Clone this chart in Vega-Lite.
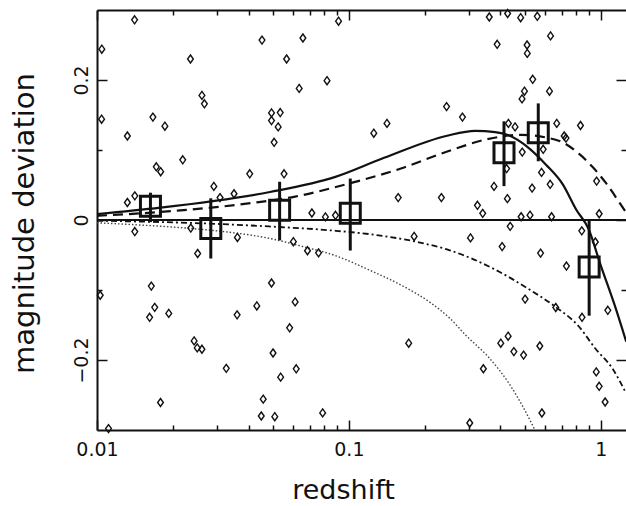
{
  "$schema": "https://vega.github.io/schema/vega-lite/v6.json",
  "width": 529,
  "height": 420,
  "autosize": "none",
  "padding": {"left": 97, "top": 10, "right": 0, "bottom": 76},
  "background": "white",
  "config": {"view": {"stroke": null}, "axis": {"grid": false}},
  "datasets": {
    "zero": [{"z": 0.01, "dm": 0}, {"z": 1.26, "dm": 0}],
    "pts": [
      {"z": 0.0141, "dm": 0.286}, {"z": 0.01045, "dm": 0.244}, {"z": 0.0235, "dm": 0.230}, {"z": 0.0452, "dm": 0.257},
      {"z": 0.0261, "dm": 0.178}, {"z": 0.0267, "dm": 0.166}, {"z": 0.01043, "dm": 0.144}, {"z": 0.01667, "dm": 0.147},
      {"z": 0.0186, "dm": 0.134}, {"z": 0.0132, "dm": 0.120}, {"z": 0.0493, "dm": 0.153}, {"z": 0.0493, "dm": 0.142},
      {"z": 0.0505, "dm": 0.111}, {"z": 0.0219, "dm": 0.086}, {"z": 0.0172, "dm": 0.076}, {"z": 0.0179, "dm": 0.069},
      {"z": 0.0404, "dm": 0.066}, {"z": 0.0291, "dm": 0.048}, {"z": 0.0308, "dm": 0.032}, {"z": 0.0350, "dm": 0.0375},
      {"z": 0.01413, "dm": 0.0345}, {"z": 0.0132, "dm": 0.025}, {"z": 0.0910, "dm": 0.284}, {"z": 0.0657, "dm": 0.260},
      {"z": 0.0566, "dm": 0.230}, {"z": 0.0819, "dm": 0.199}, {"z": 0.0635, "dm": 0.188}, {"z": 0.0534, "dm": 0.1535},
      {"z": 0.0524, "dm": 0.133}, {"z": 0.1417, "dm": 0.138}, {"z": 0.1256, "dm": 0.124}, {"z": 0.2443, "dm": 0.162},
      {"z": 0.0553, "dm": 0.066}, {"z": 0.157, "dm": 0.032}, {"z": 0.233, "dm": 0.032}, {"z": 0.0713, "dm": 0.010},
      {"z": 0.0807, "dm": 0.0044}, {"z": 0.0885, "dm": 0.0067}, {"z": 0.361, "dm": 0.290}, {"z": 0.427, "dm": 0.295},
      {"z": 0.481, "dm": 0.289}, {"z": 0.560, "dm": 0.291}, {"z": 0.632, "dm": 0.263}, {"z": 0.388, "dm": 0.251},
      {"z": 0.510, "dm": 0.250}, {"z": 0.511, "dm": 0.238}, {"z": 0.537, "dm": 0.201}, {"z": 0.626, "dm": 0.184},
      {"z": 0.498, "dm": 0.184}, {"z": 0.487, "dm": 0.173}, {"z": 0.2825, "dm": 0.147}, {"z": 0.430, "dm": 0.138},
      {"z": 0.457, "dm": 0.133}, {"z": 0.669, "dm": 0.138}, {"z": 0.831, "dm": 0.135}, {"z": 0.716, "dm": 0.120},
      {"z": 0.728, "dm": 0.117}, {"z": 0.488, "dm": 0.097}, {"z": 0.591, "dm": 0.101}, {"z": 0.423, "dm": 0.0735},
      {"z": 0.582, "dm": 0.068}, {"z": 0.377, "dm": 0.048}, {"z": 0.534, "dm": 0.0456}, {"z": 0.630, "dm": 0.051},
      {"z": 0.963, "dm": 0.0556}, {"z": 0.426, "dm": 0.0305}, {"z": 0.324, "dm": 0.021}, {"z": 0.340, "dm": 0.0095},
      {"z": 0.483, "dm": 0.0046}, {"z": 0.524, "dm": 0.0069}, {"z": 0.638, "dm": 0.0046}, {"z": 0.986, "dm": 0.0089},
      {"z": 0.437, "dm": -0.0091}, {"z": 0.841, "dm": -0.0155}, {"z": 0.952, "dm": -0.0314}, {"z": 0.304, "dm": -0.0256},
      {"z": 0.406, "dm": -0.038}, {"z": 0.577, "dm": -0.0473}, {"z": 0.731, "dm": -0.0658}, {"z": 0.501, "dm": -0.113},
      {"z": 0.663, "dm": -0.125}, {"z": 1.067, "dm": -0.129}, {"z": 0.843, "dm": -0.139}, {"z": 0.429, "dm": -0.166},
      {"z": 0.401, "dm": -0.176}, {"z": 0.452, "dm": -0.188}, {"z": 0.494, "dm": -0.193}, {"z": 0.573, "dm": -0.180},
      {"z": 0.342, "dm": -0.2125}, {"z": 0.960, "dm": -0.217}, {"z": 0.986, "dm": -0.2376}, {"z": 1.041, "dm": -0.260},
      {"z": 0.584, "dm": -0.2757}, {"z": 0.302, "dm": -0.290}, {"z": 0.1816, "dm": -0.0235}, {"z": 0.0602, "dm": -0.031},
      {"z": 0.0685, "dm": -0.0439}, {"z": 0.0758, "dm": -0.0469}, {"z": 0.0493, "dm": -0.090}, {"z": 0.0612, "dm": -0.117},
      {"z": 0.0582, "dm": -0.154}, {"z": 0.0500, "dm": -0.190}, {"z": 0.0618, "dm": -0.2126}, {"z": 0.0536, "dm": -0.2245},
      {"z": 0.1728, "dm": -0.176}, {"z": 0.0508, "dm": -0.281}, {"z": 0.0787, "dm": -0.2756}, {"z": 0.01413, "dm": -0.0165},
      {"z": 0.02357, "dm": -0.0116}, {"z": 0.0361, "dm": -0.0249}, {"z": 0.0251, "dm": -0.0479}, {"z": 0.0103, "dm": -0.1075},
      {"z": 0.01643, "dm": -0.0944}, {"z": 0.01695, "dm": -0.1248}, {"z": 0.01618, "dm": -0.139}, {"z": 0.01927, "dm": -0.1334},
      {"z": 0.0431, "dm": -0.1228}, {"z": 0.0360, "dm": -0.1355}, {"z": 0.0243, "dm": -0.1727}, {"z": 0.0250, "dm": -0.1827},
      {"z": 0.0261, "dm": -0.1846}, {"z": 0.0326, "dm": -0.2119}, {"z": 0.01787, "dm": -0.2607}, {"z": 0.0457, "dm": -0.2559},
      {"z": 0.0449, "dm": -0.280}, {"z": 0.01111, "dm": -0.298}
    ],
    "bins": [
      {"z": 0.0163, "dm": 0.0198, "lo": -0.003, "hi": 0.039},
      {"z": 0.0283, "dm": -0.012, "lo": -0.055, "hi": 0.031},
      {"z": 0.0531, "dm": 0.014, "lo": -0.029, "hi": 0.0546},
      {"z": 0.1013, "dm": 0.0097, "lo": -0.0436, "hi": 0.0592},
      {"z": 0.413, "dm": 0.096, "lo": 0.0484, "hi": 0.141},
      {"z": 0.565, "dm": 0.1246, "lo": 0.0839, "hi": 0.1666},
      {"z": 0.8996, "dm": -0.067, "lo": -0.1367, "hi": 0.0004}
    ],
    "curves": [
      {"model": "solid", "z": 0.01, "dm": 0.0085}, {"model": "solid", "z": 0.01785, "dm": 0.0176},
      {"model": "solid", "z": 0.0486, "dm": 0.040}, {"model": "solid", "z": 0.0878, "dm": 0.0612},
      {"model": "solid", "z": 0.138, "dm": 0.0888}, {"model": "solid", "z": 0.2455, "dm": 0.1204},
      {"model": "solid", "z": 0.3175, "dm": 0.1274}, {"model": "solid", "z": 0.381, "dm": 0.1256},
      {"model": "solid", "z": 0.431, "dm": 0.121}, {"model": "solid", "z": 0.5183, "dm": 0.1028},
      {"model": "solid", "z": 0.605, "dm": 0.0794}, {"model": "solid", "z": 0.7059, "dm": 0.0513},
      {"model": "solid", "z": 0.801, "dm": 0.0143}, {"model": "solid", "z": 0.894, "dm": -0.0125},
      {"model": "solid", "z": 1.0, "dm": -0.0647}, {"model": "solid", "z": 1.136, "dm": -0.1216},
      {"model": "solid", "z": 1.2627, "dm": -0.1737},
      {"model": "dashed", "z": 0.01, "dm": 0.006}, {"model": "dashed", "z": 0.0208, "dm": 0.0133},
      {"model": "dashed", "z": 0.0431, "dm": 0.0252}, {"model": "dashed", "z": 0.0612, "dm": 0.0335},
      {"model": "dashed", "z": 0.1023, "dm": 0.053}, {"model": "dashed", "z": 0.161, "dm": 0.0736},
      {"model": "dashed", "z": 0.246, "dm": 0.0979}, {"model": "dashed", "z": 0.3595, "dm": 0.1159},
      {"model": "dashed", "z": 0.4836, "dm": 0.1216}, {"model": "dashed", "z": 0.681, "dm": 0.1132},
      {"model": "dashed", "z": 0.819, "dm": 0.0947}, {"model": "dashed", "z": 0.927, "dm": 0.076},
      {"model": "dashed", "z": 1.05, "dm": 0.0526}, {"model": "dashed", "z": 1.189, "dm": 0.0244},
      {"model": "dashed", "z": 1.26, "dm": 0.011},
      {"model": "dashdot", "z": 0.01, "dm": -0.001}, {"model": "dashdot", "z": 0.0305, "dm": -0.0057},
      {"model": "dashdot", "z": 0.0481, "dm": -0.0092}, {"model": "dashdot", "z": 0.0886, "dm": -0.0154},
      {"model": "dashdot", "z": 0.1277, "dm": -0.0213}, {"model": "dashdot", "z": 0.1897, "dm": -0.0319},
      {"model": "dashdot", "z": 0.2497, "dm": -0.0429}, {"model": "dashdot", "z": 0.378, "dm": -0.0702},
      {"model": "dashdot", "z": 0.5137, "dm": -0.0979}, {"model": "dashdot", "z": 0.657, "dm": -0.1234},
      {"model": "dashdot", "z": 0.8157, "dm": -0.1514}, {"model": "dashdot", "z": 0.9537, "dm": -0.184},
      {"model": "dashdot", "z": 1.114, "dm": -0.2124}, {"model": "dashdot", "z": 1.262, "dm": -0.2478},
      {"model": "dotted", "z": 0.01, "dm": -0.004}, {"model": "dotted", "z": 0.02428, "dm": -0.0125},
      {"model": "dotted", "z": 0.03144, "dm": -0.0163}, {"model": "dotted", "z": 0.0505, "dm": -0.0277},
      {"model": "dotted", "z": 0.0654, "dm": -0.0378}, {"model": "dotted", "z": 0.0889, "dm": -0.0512},
      {"model": "dotted", "z": 0.1207, "dm": -0.0716}, {"model": "dotted", "z": 0.164, "dm": -0.0944},
      {"model": "dotted", "z": 0.2099, "dm": -0.1176}, {"model": "dotted", "z": 0.2525, "dm": -0.1409},
      {"model": "dotted", "z": 0.2904, "dm": -0.1642}, {"model": "dotted", "z": 0.3605, "dm": -0.197},
      {"model": "dotted", "z": 0.4343, "dm": -0.2345}, {"model": "dotted", "z": 0.4925, "dm": -0.2676},
      {"model": "dotted", "z": 0.5445, "dm": -0.298}
    ]
  },
  "layer": [
    {
      "data": {"name": "zero"},
      "mark": {"type": "line", "color": "#111", "strokeWidth": 1.8, "clip": true},
      "encoding": {
        "x": {"field": "z", "type": "quantitative", "scale": {"type": "log", "domain": [0.01, 1.26], "nice": false},
          "axis": {
            "orient": "bottom",
            "values": [0.01, 0.02, 0.03, 0.04, 0.05, 0.06, 0.07, 0.08, 0.09, 0.1, 0.2, 0.3, 0.4, 0.5, 0.6, 0.7, 0.8, 0.9, 1],
            "labelExpr": "datum.value == 0.01 ? '0.01' : (datum.value == 0.1 ? '0.1' : (datum.value == 1 ? '1' : ''))",
            "tickSize": {"condition": {"test": "datum.value == 0.01 || datum.value == 0.1 || datum.value == 1", "value": -10}, "value": -5},
            "tickColor": "#111", "tickWidth": 1.5,
            "domainColor": "#111", "domainWidth": 2,
            "labelFont": "DejaVu Sans", "labelFontSize": 19, "labelColor": "#111", "labelPadding": 20,
            "labelBaseline": "top", "labelFlush": false, "labelOverlap": false,
            "title": "redshift", "titleFont": "DejaVu Sans", "titleFontSize": 27, "titleFontWeight": "normal",
            "titleColor": "#111", "titleX": 246, "titleY": 68, "titleBaseline": "alphabetic", "titleAlign": "center",
            "grid": false
          }},
        "y": {"field": "dm", "type": "quantitative", "scale": {"domain": [-0.3, 0.3], "nice": false, "zero": false},
          "axis": {
            "orient": "left",
            "values": [-0.2, -0.1, 0, 0.1, 0.2],
            "labelExpr": "datum.value == 0.2 ? '0.2' : (datum.value == -0.2 ? '−0.2' : (datum.value == 0 ? '0' : ''))",
            "tickSize": {"condition": {"test": "abs(datum.value) < 0.05 || abs(datum.value) > 0.15", "value": -10}, "value": -5},
            "tickColor": "#111", "tickWidth": 1.5,
            "domainColor": "#111", "domainWidth": 2,
            "labelFont": "DejaVu Sans", "labelFontSize": 19, "labelColor": "#111", "labelPadding": 20,
            "labelAngle": 270, "labelAlign": "center", "labelBaseline": "alphabetic", "labelFlush": false, "labelOverlap": false,
            "title": "magnitude deviation", "titleFont": "DejaVu Sans", "titleFontSize": 29, "titleFontWeight": "normal",
            "titleColor": "#111", "titleAngle": 270, "titleX": -64, "titleY": 213, "titleBaseline": "alphabetic", "titleAlign": "center",
            "grid": false
          }}
      }
    },
    {
      "data": {"name": "curves"},
      "transform": [{"filter": "datum.model == 'dotted'"}],
      "mark": {"type": "line", "color": "#444", "strokeWidth": 1.4, "strokeDash": [1.5, 2], "clip": true, "interpolate": "monotone"},
      "encoding": {
        "x": {"field": "z", "type": "quantitative", "scale": {"type": "log", "domain": [0.01, 1.26], "nice": false}, "axis": null},
        "y": {"field": "dm", "type": "quantitative", "scale": {"domain": [-0.3, 0.3], "nice": false, "zero": false}, "axis": null}
      }
    },
    {
      "data": {"name": "curves"},
      "transform": [{"filter": "datum.model == 'dashdot'"}],
      "mark": {"type": "line", "color": "#111", "strokeWidth": 1.8, "strokeDash": [6, 3, 2, 3], "clip": true, "interpolate": "monotone"},
      "encoding": {
        "x": {"field": "z", "type": "quantitative", "scale": {"type": "log", "domain": [0.01, 1.26], "nice": false}, "axis": null},
        "y": {"field": "dm", "type": "quantitative", "scale": {"domain": [-0.3, 0.3], "nice": false, "zero": false}, "axis": null}
      }
    },
    {
      "data": {"name": "curves"},
      "transform": [{"filter": "datum.model == 'dashed'"}],
      "mark": {"type": "line", "color": "#111", "strokeWidth": 2.2, "strokeDash": [10, 6], "clip": true, "interpolate": "monotone"},
      "encoding": {
        "x": {"field": "z", "type": "quantitative", "scale": {"type": "log", "domain": [0.01, 1.26], "nice": false}, "axis": null},
        "y": {"field": "dm", "type": "quantitative", "scale": {"domain": [-0.3, 0.3], "nice": false, "zero": false}, "axis": null}
      }
    },
    {
      "data": {"name": "curves"},
      "transform": [{"filter": "datum.model == 'solid'"}],
      "mark": {"type": "line", "color": "#111", "strokeWidth": 2.2, "clip": true, "interpolate": "monotone"},
      "encoding": {
        "x": {"field": "z", "type": "quantitative", "scale": {"type": "log", "domain": [0.01, 1.26], "nice": false}, "axis": null},
        "y": {"field": "dm", "type": "quantitative", "scale": {"domain": [-0.3, 0.3], "nice": false, "zero": false}, "axis": null}
      }
    },
    {
      "data": {"name": "pts"},
      "mark": {"type": "point", "shape": "M0,-1L0.72,0L0,1L-0.72,0Z", "size": 64, "filled": false, "color": "#111", "strokeWidth": 1.4, "opacity": 1},
      "encoding": {
        "x": {"field": "z", "type": "quantitative", "scale": {"type": "log", "domain": [0.01, 1.26], "nice": false},
          "axis": {
            "orient": "top",
            "values": [0.01, 0.02, 0.03, 0.04, 0.05, 0.06, 0.07, 0.08, 0.09, 0.1, 0.2, 0.3, 0.4, 0.5, 0.6, 0.7, 0.8, 0.9, 1],
            "labels": false, "title": null,
            "tickSize": {"condition": {"test": "datum.value == 0.01 || datum.value == 0.1 || datum.value == 1", "value": -10}, "value": -5},
            "tickColor": "#111", "tickWidth": 1.5,
            "domainColor": "#111", "domainWidth": 2, "grid": false
          }},
        "y": {"field": "dm", "type": "quantitative", "scale": {"domain": [-0.3, 0.3], "nice": false, "zero": false},
          "axis": {
            "orient": "right",
            "values": [-0.2, -0.1, 0, 0.1, 0.2],
            "labels": false, "title": null, "domain": false,
            "tickSize": {"condition": {"test": "abs(datum.value) < 0.05 || abs(datum.value) > 0.15", "value": -10}, "value": -5},
            "tickColor": "#111", "tickWidth": 1.5, "grid": false
          }}
      }
    },
    {
      "data": {"name": "bins"},
      "mark": {"type": "rule", "color": "#111", "strokeWidth": 3},
      "encoding": {
        "x": {"field": "z", "type": "quantitative", "scale": {"type": "log", "domain": [0.01, 1.26], "nice": false}, "axis": null},
        "y": {"field": "lo", "type": "quantitative", "scale": {"domain": [-0.3, 0.3], "nice": false, "zero": false}, "axis": null},
        "y2": {"field": "hi"}
      }
    },
    {
      "data": {"name": "bins"},
      "mark": {"type": "point", "shape": "square", "size": 400, "filled": false, "color": "#111", "strokeWidth": 3, "opacity": 1},
      "encoding": {
        "x": {"field": "z", "type": "quantitative", "scale": {"type": "log", "domain": [0.01, 1.26], "nice": false}, "axis": null},
        "y": {"field": "dm", "type": "quantitative", "scale": {"domain": [-0.3, 0.3], "nice": false, "zero": false}, "axis": null}
      }
    }
  ],
  "resolve": {"axis": {"x": "independent", "y": "independent"}}
}
